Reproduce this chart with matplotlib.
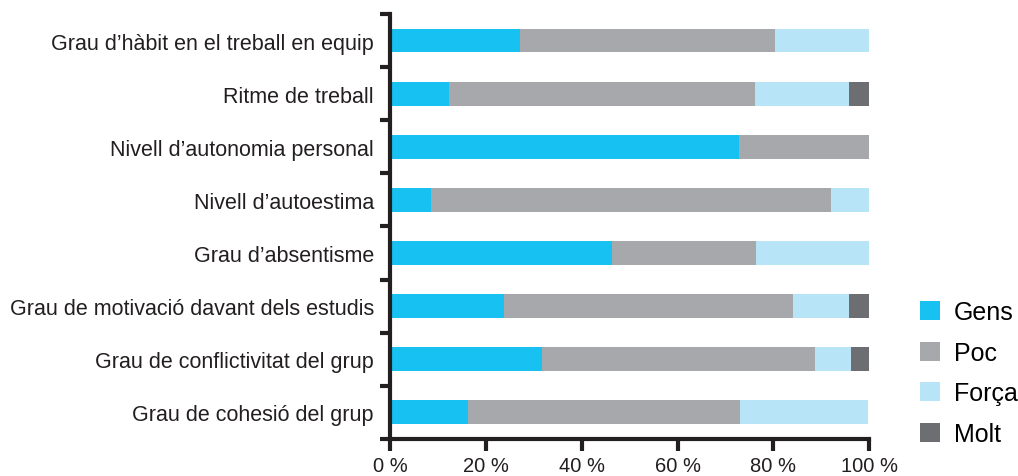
import matplotlib.pyplot as plt
import numpy as np
from matplotlib.patches import Patch

plt.rcParams['font.family'] = ['Liberation Sans', 'DejaVu Sans']

categories = [
    "Grau d\u2019hàbit en el treball en equip",
    "Ritme de treball",
    "Nivell d\u2019autonomia personal",
    "Nivell d\u2019autoestima",
    "Grau d\u2019absentisme",
    "Grau de motivació davant dels estudis",
    "Grau de conflictivitat del grup",
    "Grau de cohesió del grup",
]
series = ["Gens", "Poc", "Força", "Molt"]
gens = [27.1, 12.3, 72.9, 8.6, 46.3, 23.8, 31.7, 16.2]
poc = [53.3, 63.9, 27.1, 83.5, 30.1, 60.3, 57.0, 56.9]
forca = [19.6, 19.6, 0.0, 7.9, 23.6, 11.7, 7.5, 26.7]
molt = [0.0, 4.2, 0.0, 0.0, 0.0, 4.2, 3.8, 0.0]
colors = ["#17c1f2", "#a7a8ac", "#b8e4f8", "#6d6e72"]
xticks = [0, 20, 40, 60, 80, 100]

fig = plt.figure(figsize=(10.18, 4.77), dpi=100)
ax = fig.add_axes([0.383, 0.0776, 0.471, 0.891])

y = np.arange(len(categories))
left = np.zeros(len(categories))
for vals, col in zip([gens, poc, forca, molt], colors):
    vals = np.array(vals)
    ax.barh(y, vals, left=left, height=0.45, color=col, linewidth=0)
    left += vals

ax.set_xlim(0, 100)
ax.set_ylim(7.5, -0.5)
ax.set_yticks(y)
ax.set_yticklabels(categories, fontsize=15.5, color="#231f20")
ax.set_yticks(np.arange(-0.5, 8, 1), minor=True)
ax.tick_params(axis='y', which='major', length=0, pad=11.5)
ax.tick_params(axis='y', which='minor', length=7.5, width=3, color="#231f20")
ax.set_xticks(xticks)
ax.set_xticklabels([f"{t} %" for t in xticks], fontsize=14.5, color="#231f20")
ax.tick_params(axis='x', length=8.5, width=3, color="#231f20", pad=3.5)

for s in ['top', 'right']:
    ax.spines[s].set_visible(False)
for s in ['left', 'bottom']:
    ax.spines[s].set_linewidth(3)
    ax.spines[s].set_color("#231f20")

handles = [Patch(facecolor=c, edgecolor='none', label=n) for c, n in zip(colors, series)]
fig.legend(handles=handles, loc='upper left', bbox_to_anchor=(0.904, 0.368),
           frameon=False, fontsize=18, handlelength=0.78, handleheight=0.78,
           handletextpad=0.55, labelspacing=0.66, borderpad=0, borderaxespad=0)

fig.savefig("out.png", dpi=100)
